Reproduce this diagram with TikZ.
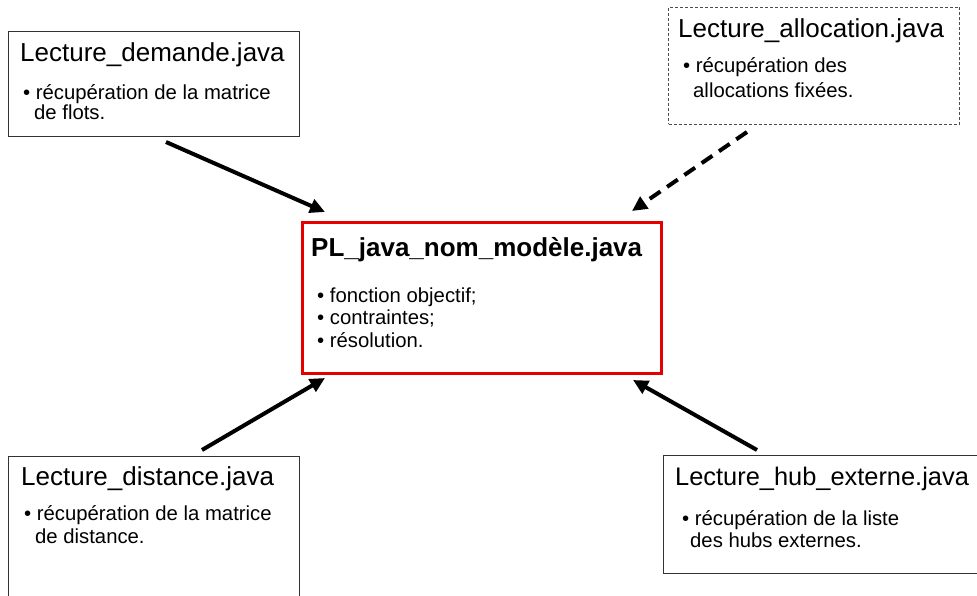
\documentclass[tikz,border=0pt]{standalone}
\usepackage{fontspec}
\setmainfont{Liberation Sans}
\usetikzlibrary{arrows.meta}
\begin{document}
\begin{tikzpicture}[x=1pt,y=-1pt,
  box/.style={draw=black!80, line width=1pt, inner sep=0pt, anchor=north west},
  dbox/.style={box, draw=black!70, dash pattern=on 3pt off 2pt},
  mainbox/.style={draw=red!90!black, line width=3pt, inner sep=0pt, anchor=north west},
  ttl/.style={anchor=base west, inner sep=0pt, font=\fontsize{26}{30}\selectfont},
  mttl/.style={anchor=base west, inner sep=0pt, font=\fontsize{26}{30}\selectfont\bfseries},
  itm/.style={anchor=base west, inner sep=0pt, font=\fontsize{20.3}{24}\selectfont},
  link/.style={line width=4pt, -{Triangle[length=15pt,width=14pt]}},
  dlink/.style={link, dash pattern=on 13pt off 8pt}]
\useasboundingbox (0,0) rectangle (977,596);
\clip (0,0) rectangle (977,596);

% top-left box
\node[box, minimum width=291pt, minimum height=105pt] (demande) at (8,31) {};
\node[ttl] (demandeT) at (20,62) {Lecture\_demande.java};
\node[itm] (demandeA) at (23,100) {• récupération de la matrice};
\node[itm] (demandeB) at (34,120) {de flots.};

% top-right dashed box
\node[dbox, minimum width=291pt, minimum height=117pt] (alloc) at (668,7) {};
\node[ttl] (allocT) at (678,38) {Lecture\_allocation.java};
\node[itm] (allocA) at (683,73) {• récupération des};
\node[itm] (allocB) at (693,98) {allocations fixées.};

% centre box
\node[mainbox, minimum width=359pt, minimum height=151pt] (pl) at (301,221) {};
\node[mttl] (plT) at (311,256) {PL\_java\_nom\_modèle.java};
\node[itm] (plA) at (317,302) {• fonction objectif;};
\node[itm] (plB) at (317,324) {• contraintes;};
\node[itm] (plC) at (317,347) {• résolution.};

% bottom-left box
\node[box, minimum width=291pt, minimum height=200pt] (dist) at (8,456) {};
\node[ttl] (distT) at (21,485) {Lecture\_distance.java};
\node[itm] (distA) at (24,520) {• récupération de la matrice};
\node[itm] (distB) at (35,543) {de distance.};

% bottom-right box
\node[box, minimum width=340pt, minimum height=118pt] (hub) at (663,455) {};
\node[ttl, font=\fontsize{25.4}{30}\selectfont] (hubT) at (675,485) {Lecture\_hub\_externe.java};
\node[itm] (hubA) at (682,525) {• récupération de la liste};
\node[itm] (hubB) at (690,547) {des hubs externes.};

% connector ends
\coordinate (a1s) at (166,142);
\coordinate (a1e) at (325,212);
\coordinate (a2s) at (747,132);
\coordinate (a2e) at (632,211);
\coordinate (a3s) at (202,450);
\coordinate (a3e) at (325,378);
\coordinate (a4s) at (757,450);
\coordinate (a4e) at (633,380);

\draw[link] (a1s) -- (a1e);
\draw[dlink] (a2s) -- (a2e);
\draw[link] (a3s) -- (a3e);
\draw[link] (a4s) -- (a4e);
\end{tikzpicture}
\end{document}
